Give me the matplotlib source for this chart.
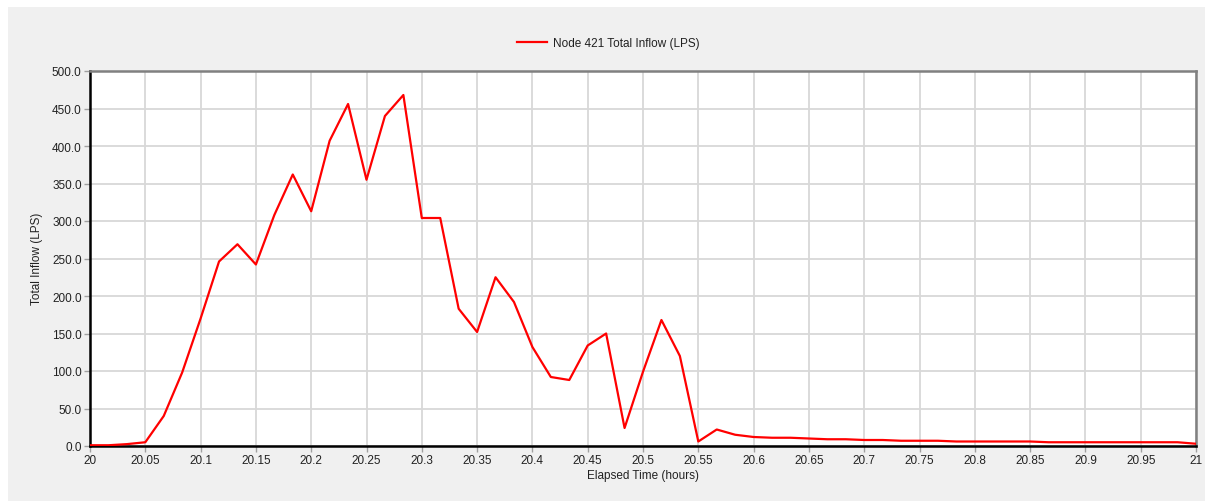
import numpy as np
import matplotlib
matplotlib.use("Agg")
import matplotlib.pyplot as plt
from matplotlib.patches import Rectangle
from matplotlib.lines import Line2D

plt.rcParams['font.family'] = ['Liberation Sans', 'DejaVu Sans']

# Elapsed time in hours, 1-minute steps from 20.0 to 21.0
minutes = list(range(0, 61))
inflow = [1, 1, 2.5, 5, 40, 98, 170, 246, 269, 242,
          308, 362, 313, 407, 456, 355, 440, 468, 304, 304,
          183, 152, 225, 192, 132, 92, 88, 134, 150, 24,
          99, 168, 120, 6, 22, 15, 12, 11, 11, 10,
          9, 9, 8, 8, 7, 7, 7, 6, 6, 6,
          6, 6, 5, 5, 5, 5, 5, 5, 5, 5, 3]
xticks = [20, 20.05, 20.1, 20.15, 20.2, 20.25, 20.3, 20.35, 20.4, 20.45, 20.5,
          20.55, 20.6, 20.65, 20.7, 20.75, 20.8, 20.85, 20.9, 20.95, 21]
xticklabels = ["20", "20.05", "20.1", "20.15", "20.2", "20.25", "20.3", "20.35", "20.4",
               "20.45", "20.5", "20.55", "20.6", "20.65", "20.7", "20.75", "20.8",
               "20.85", "20.9", "20.95", "21"]
yticks = [0, 50, 100, 150, 200, 250, 300, 350, 400, 450, 500]
yticklabels = ["%.1f" % v for v in yticks]
series_label = "Node 421 Total Inflow (LPS)"

hours = [20 + m / 60 for m in minutes]

W, H = 1205, 502
fig = plt.figure(figsize=(W / 100, H / 100), dpi=100)
fig.patch.set_facecolor("white")
fig.patches.append(Rectangle((8 / W, 0), 1, 1 - 8 / H, transform=fig.transFigure,
                             facecolor="#f0f0f0", edgecolor="none", zorder=-10))

l, r, t, b = 90, 1196, 72, 447
ax = fig.add_axes([l / W, 1 - b / H, (r - l) / W, (b - t) / H])
ax.set_facecolor("white")
ax.plot(hours, inflow, color="#ff0000", lw=1.6, zorder=3)
ax.set_xlim(20, 21)
ax.set_ylim(0, 500)
ax.set_xticks(xticks)
ax.set_xticklabels(xticklabels)
ax.set_yticks(yticks)
ax.set_yticklabels(yticklabels)
ax.grid(True, color="#d8d8d8", lw=1.3, zorder=0)
ax.set_axisbelow(True)
ax.tick_params(axis="both", length=4, width=1, color="#a0a0a0", labelsize=8.5,
               labelcolor="#222222", pad=2)
for s in ["left", "bottom"]:
    ax.spines[s].set_color("#000000")
    ax.spines[s].set_linewidth(1.8)
for s in ["top", "right"]:
    ax.spines[s].set_color("#808080")
    ax.spines[s].set_linewidth(1.8)

fig.text(643 / W, 1 - 476 / H, "Elapsed Time (hours)", ha="center", va="center",
         fontsize=8.5, color="#222222")
fig.text(37 / W, 1 - 259 / H, "Total Inflow (LPS)", ha="center", va="center",
         rotation=90, fontsize=8.5, color="#222222")

handle = Line2D([], [], color="#ff0000", lw=1.6)
leg = fig.legend([handle], [series_label], loc="center",
                 bbox_to_anchor=(608 / W, 1 - 44 / H), frameon=False,
                 fontsize=8.5, handlelength=2.6, handletextpad=0.45)
for txt in leg.get_texts():
    txt.set_color("#222222")

fig.savefig("out.png", dpi=100, facecolor=fig.get_facecolor())
